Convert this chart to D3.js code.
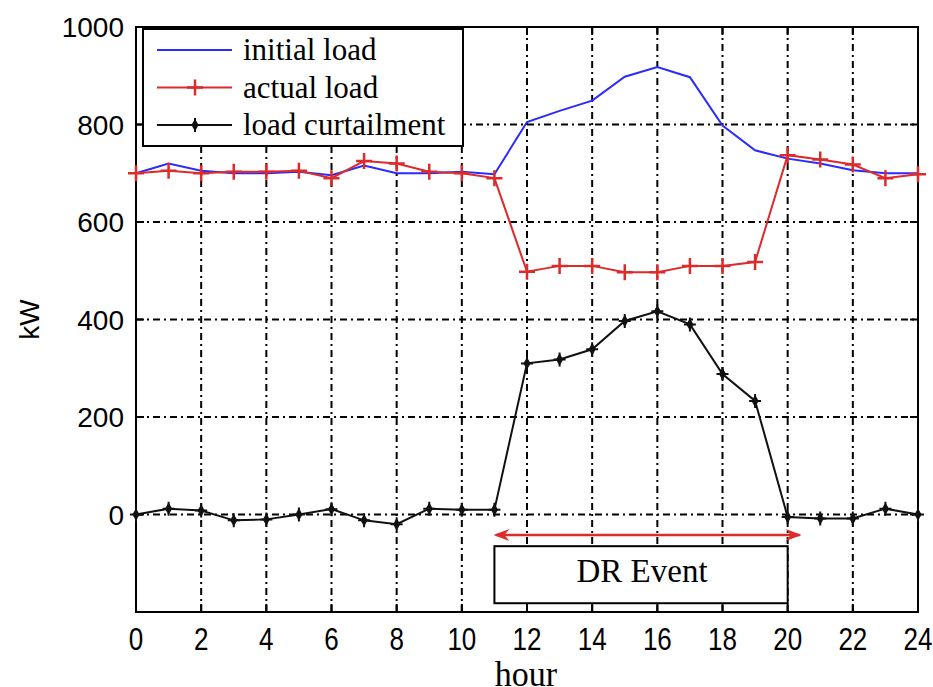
<!DOCTYPE html>
<html>
<head>
<meta charset="utf-8">
<script src="https://cdn.jsdelivr.net/npm/d3@7"></script>
<style>
  body { margin: 0; background: #fff; }
  svg { display: block; }
</style>
</head>
<body>
<div id="chart"></div>
<script>
// hours 0..24
const hours = d3.range(0, 25);
const initialLoad = [700, 720, 705, 700, 700, 703, 696, 716, 700, 700, 703, 698,
                     805, 828, 849, 898, 918, 897, 798, 747, 730, 720, 706, 700, 700];
const actualLoad  = [700, 705, 700, 703, 703, 705, 690, 725, 720, 703, 700, 690,
                     498, 510, 510, 497, 497, 510, 510, 518, 737, 728, 718, 690, 698];
const curtailment = [0, 12, 8, -12, -10, 0, 11, -12, -20, 12, 10, 10,
                     310, 318, 339, 397, 417, 390, 288, 233, -5, -8, -8, 12, 0];
const xTicks = d3.range(0, 25, 2);
const yTicks = [-200, 0, 200, 400, 600, 800, 1000];
const legendNames = ["initial load", "actual load", "load curtailment"];
const drEvent = {start: 11, end: 20, label: "DR Event"};

const W = 933, H = 687;
const margin = {top: 27, right: 15, bottom: 75, left: 136};
const width = W - margin.left - margin.right,
      height = H - margin.top - margin.bottom;

const svg = d3.select("#chart").append("svg")
    .attr("width", W).attr("height", H);
const g = svg.append("g")
    .attr("transform", "translate(" + margin.left + "," + margin.top + ")");

const x = d3.scaleLinear().domain([0, 24]).range([0, width]);
const y = d3.scaleLinear().domain([-200, 1000]).range([height, 0]);

const dashDot = "7,4,2,4";

// grid
g.append("g").selectAll("line")
  .data(xTicks.filter(d => d > 0 && d < 24))
  .enter().append("line")
  .attr("x1", d => x(d)).attr("x2", d => x(d))
  .attr("y1", 0).attr("y2", height)
  .attr("stroke", "#000").attr("stroke-width", 2)
  .attr("stroke-dasharray", dashDot);
g.append("g").selectAll("line")
  .data(yTicks.filter(d => d > -200 && d < 1000))
  .enter().append("line")
  .attr("x1", 0).attr("x2", width)
  .attr("y1", d => y(d)).attr("y2", d => y(d))
  .attr("stroke", "#000").attr("stroke-width", 2)
  .attr("stroke-dasharray", dashDot);

// DR event box (covers grid)
g.append("rect")
  .attr("x", x(drEvent.start)).attr("y", y(-65))
  .attr("width", x(drEvent.end) - x(drEvent.start))
  .attr("height", y(-182) - y(-65))
  .attr("fill", "#fff").attr("stroke", "#000").attr("stroke-width", 2);
g.append("text")
  .attr("x", (x(drEvent.start) + x(drEvent.end)) / 2 + 1)
  .attr("y", y(-138))
  .attr("text-anchor", "middle")
  .style("font-family", "'Liberation Serif', 'Times New Roman', serif")
  .style("font-size", "33px")
  .text(drEvent.label);

// arrow
const arrowY = y(-42);
g.append("line")
  .attr("x1", x(drEvent.start) + 2).attr("x2", x(drEvent.end) + 12)
  .attr("y1", arrowY).attr("y2", arrowY)
  .attr("stroke", "#dd2a2a").attr("stroke-width", 2.5);
[[x(drEvent.start) - 1, 1], [x(drEvent.end) + 14, -1]].forEach(([tx, dir]) => {
  g.append("path")
    .attr("d", `M${tx},${arrowY} L${tx + dir * 16},${arrowY - 6} L${tx + dir * 11},${arrowY} L${tx + dir * 16},${arrowY + 6} Z`)
    .attr("fill", "#dd2a2a");
});

// axes with inward ticks on all sides
const tickLen = 8;
const axisG = g.append("g");
xTicks.forEach(d => {
  axisG.append("line").attr("x1", x(d)).attr("x2", x(d))
    .attr("y1", height).attr("y2", height - tickLen);
  axisG.append("line").attr("x1", x(d)).attr("x2", x(d))
    .attr("y1", 0).attr("y2", tickLen);
});
yTicks.forEach(d => {
  axisG.append("line").attr("x1", 0).attr("x2", tickLen)
    .attr("y1", y(d)).attr("y2", y(d));
  axisG.append("line").attr("x1", width).attr("x2", width - tickLen)
    .attr("y1", y(d)).attr("y2", y(d));
});
axisG.selectAll("line").attr("stroke", "#000").attr("stroke-width", 2);
g.append("rect").attr("x", 0).attr("y", 0)
  .attr("width", width).attr("height", height)
  .attr("fill", "none").attr("stroke", "#000").attr("stroke-width", 2);

// tick labels
g.append("g").selectAll("text")
  .data(xTicks).enter().append("text")
  .attr("transform", d => `translate(${x(d)},${height + 38}) scale(1,1.22)`)
  .attr("text-anchor", "middle")
  .style("font-family", "'Liberation Sans', Arial, sans-serif")
  .style("font-size", "26px")
  .text(d => d);
g.append("g").selectAll("text")
  .data(yTicks.filter(d => d >= 0)).enter().append("text")
  .attr("x", -12).attr("y", d => y(d) + 10)
  .attr("text-anchor", "end")
  .style("font-family", "'Liberation Sans', Arial, sans-serif")
  .style("font-size", "28px")
  .text(d => d);

// axis titles
g.append("text")
  .attr("transform", `translate(${x(12) - 1},${height + 74}) scale(1,1.05)`)
  .attr("text-anchor", "middle")
  .style("font-family", "'Liberation Serif', 'Times New Roman', serif")
  .style("font-size", "34px")
  .text("hour");
g.append("text")
  .attr("transform", `translate(-97,${y(400)}) rotate(-90)`)
  .attr("text-anchor", "middle")
  .style("font-family", "'Liberation Sans', Arial, sans-serif")
  .style("font-size", "28px")
  .text("kW");

// lines
const line = d3.line().x((d, i) => x(hours[i])).y(d => y(d));
const blue = "#2b2bff", red = "#dd2a2a";
g.append("path").datum(initialLoad).attr("d", line)
  .attr("fill", "none").attr("stroke", blue).attr("stroke-width", 2);
g.append("path").datum(actualLoad).attr("d", line)
  .attr("fill", "none").attr("stroke", red).attr("stroke-width", 2);
g.append("path").datum(curtailment).attr("d", line)
  .attr("fill", "none").attr("stroke", "#111").attr("stroke-width", 2);

// markers
function plusMarker(sel, cx, cy, s, color) {
  sel.append("path")
    .attr("d", `M${cx - s},${cy} H${cx + s} M${cx},${cy - s} V${cy + s}`)
    .attr("stroke", color).attr("stroke-width", 2.5).attr("fill", "none");
}
function starMarker(sel, cx, cy, color) {
  sel.append("path")
    .attr("d", `M${cx - 6},${cy} H${cx + 6} M${cx},${cy - 7} V${cy + 7}`)
    .attr("stroke", color).attr("stroke-width", 2).attr("fill", "none");
  sel.append("path")
    .attr("d", d3.symbol().type(d3.symbolDiamond).size(45)())
    .attr("transform", `translate(${cx},${cy})`)
    .attr("fill", color);
}
const mk = g.append("g");
actualLoad.forEach((v, i) => plusMarker(mk, x(hours[i]), y(v), 8, red));
curtailment.forEach((v, i) => starMarker(mk, x(hours[i]), y(v), "#111"));

// legend
const leg = svg.append("g").attr("transform", "translate(143,29)");
leg.append("rect").attr("width", 320).attr("height", 117)
  .attr("fill", "#fff").attr("stroke", "#000").attr("stroke-width", 2);
const legColors = [blue, red, "#111"];
legendNames.forEach((name, i) => {
  const ly = 21 + i * 37.5;
  leg.append("line").attr("x1", 14).attr("x2", 89)
    .attr("y1", ly).attr("y2", ly)
    .attr("stroke", legColors[i]).attr("stroke-width", 2);
  if (i === 1) plusMarker(leg, 52, ly, 8, red);
  if (i === 2) starMarker(leg, 52, ly, "#111");
  leg.append("text").attr("x", 100).attr("y", ly + 10)
    .style("font-family", "'Liberation Serif', 'Times New Roman', serif")
    .style("font-size", "31px")
    .text(name);
});
</script>
</body>
</html>
